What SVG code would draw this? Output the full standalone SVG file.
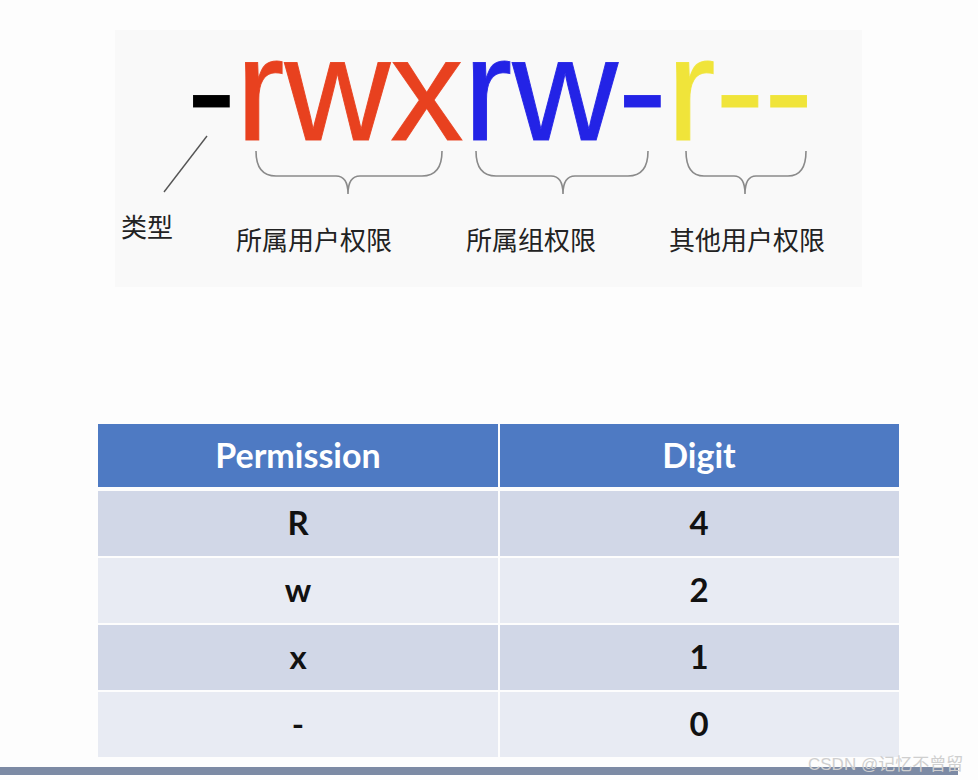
<svg xmlns="http://www.w3.org/2000/svg" width="978" height="780" viewBox="0 0 978 780">
  <style>
    .big { font-family: "Liberation Sans", Arial, sans-serif; font-size: 147px; }
    .cn { font-family: "Noto Sans CJK SC", sans-serif; font-size: 26px; fill: #222; }
    .brace { fill: none; stroke: #8a8a8a; stroke-width: 1.6; }
    .hdr { font-family: Lato, "Open Sans", sans-serif; font-weight: bold; font-size: 34px; fill: #fff; text-anchor: middle; }
    .cell { font-family: Lato, "Open Sans", sans-serif; font-weight: bold; font-size: 33px; fill: #111; text-anchor: middle; }
    .rowA { fill: #d1d7e7; }
    .rowB { fill: #e8ebf3; }
  </style>
  <rect x="0" y="0" width="978" height="780" fill="#fdfdfd"/>
  <g id="watermark" fill="#000">
    <rect x="115" y="30" width="747" height="257" opacity="0.015"/>
  </g>

  <g id="permission-string">
    <text class="big" x="187" y="140" textLength="626" lengthAdjust="spacingAndGlyphs" stroke-width="1" stroke-opacity="0.9"><tspan fill="#000" stroke="#000">-</tspan><tspan fill="#e8411f" stroke="#e8411f">rwx</tspan><tspan fill="#2323e6" stroke="#2323e6">rw-</tspan><tspan fill="#f0e43a" stroke="#f0e43a">r--</tspan></text>
  </g>

  <g id="connectors">
    <line x1="207" y1="136" x2="164" y2="192" stroke="#555" stroke-width="1.4"/>
    <path class="brace" d="M256,151 Q256,176 276,176 L336,176 Q348,176 348,194 Q348,176 360,176 L422,176 Q442,176 442,151"/>
    <path class="brace" d="M476,151 Q476,176 496,176 L551,176 Q563,176 563,194 Q563,176 575,176 L628,176 Q648,176 648,151"/>
    <path class="brace" d="M686,151 Q686,176 704,176 L734,176 Q745,176 745,194 Q745,176 756,176 L788,176 Q806,176 806,151"/>
  </g>

  <g id="label-type"><text class="cn" x="121" y="237">类型</text></g>
  <g id="label-owner"><text class="cn" x="314" y="250" text-anchor="middle">所属用户权限</text></g>
  <g id="label-group"><text class="cn" x="531" y="250" text-anchor="middle">所属组权限</text></g>
  <g id="label-other"><text class="cn" x="747" y="250" text-anchor="middle">其他用户权限</text></g>

  <g id="table">
    <rect x="98" y="424" width="400" height="63" fill="#4e7ac3"/>
    <rect x="500" y="424" width="399" height="63" fill="#4e7ac3"/>
    <text class="hdr" x="298" y="468">Permission</text>
    <text class="hdr" x="699" y="468">Digit</text>

    <rect class="rowA" x="98" y="491" width="400" height="65"/>
    <rect class="rowA" x="500" y="491" width="399" height="65"/>
    <text class="cell" x="298" y="535">R</text>
    <text class="cell" x="699" y="535">4</text>

    <rect class="rowB" x="98" y="558" width="400" height="65"/>
    <rect class="rowB" x="500" y="558" width="399" height="65"/>
    <text class="cell" x="298" y="602">w</text>
    <text class="cell" x="699" y="602">2</text>

    <rect class="rowA" x="98" y="625" width="400" height="65"/>
    <rect class="rowA" x="500" y="625" width="399" height="65"/>
    <text class="cell" x="298" y="669">x</text>
    <text class="cell" x="699" y="669">1</text>

    <rect class="rowB" x="98" y="692" width="400" height="65"/>
    <rect class="rowB" x="500" y="692" width="399" height="65"/>
    <text class="cell" x="298" y="736">-</text>
    <text class="cell" x="699" y="736">0</text>
  </g>

  <rect x="0" y="767" width="958" height="8" fill="#7c8aa4"/>
  <text x="808" y="770" font-family="'Liberation Sans', 'Noto Sans CJK SC', sans-serif" font-size="17" fill="#cfcfcf">CSDN @记忆不曾留</text>
</svg>
